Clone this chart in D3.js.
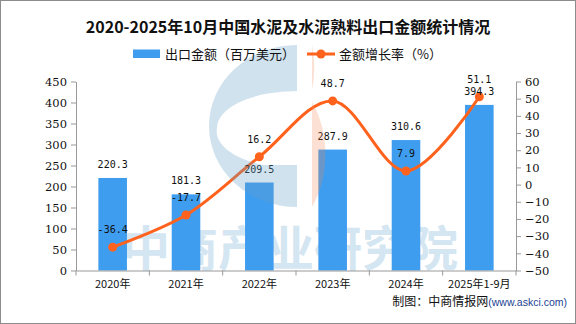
<!DOCTYPE html>
<html>
<head>
<meta charset="utf-8">
<script src="https://cdn.jsdelivr.net/npm/d3@7"></script>
<style>
    body { margin: 0; background: #fff; }
    svg { display: block; }
</style>
</head>
<body>
<svg id="drawing_region"></svg>
<script>
const years = ['2020年', '2021年', '2022年', '2023年', '2024年', '2025年1-9月'];
const exportValues = [220.3, 181.3, 209.5, 287.9, 310.6, 394.3];
const growthRates = [-36.4, -17.7, 16.2, 48.7, 7.9, 51.1];
const leftTicks = [0, 50, 100, 150, 200, 250, 300, 350, 400, 450];
const rightTicks = [-50, -40, -30, -20, -10, 0, 10, 20, 30, 40, 50, 60];

const title = '2020-2025年10月中国水泥及水泥熟料出口金额统计情况';
const barName = '出口金额（百万美元）';
const lineName = '金额增长率（%）';

const BAR_COLOR = '#3f9df0';
const LINE_COLOR = '#ff621c';

class ComboChart {
    constructor(config) {
        this.config = config;
        this.data = years.map((y, i) => ({ year: y, value: exportValues[i], rate: growthRates[i] }));
        this.init();
    }

    init() {
        let self = this;
        const m = self.config.margin;
        self.inner_width = self.config.width - m.left - m.right;
        self.inner_height = self.config.height - m.top - m.bottom;

        self.svg = d3.select(self.config.parent)
            .attr('width', self.config.width)
            .attr('height', self.config.height);

        // frame
        self.svg.append('rect')
            .attr('x', 0.5).attr('y', 0.5)
            .attr('width', self.config.width - 1).attr('height', self.config.height - 1)
            .attr('fill', '#fff').attr('stroke', '#8c8c8c');

        // watermark text sits behind the bars
        self.svg.append('text')
            .attr('x', 290).attr('y', 266)
            .attr('text-anchor', 'middle')
            .attr('font-family', '"Noto Sans CJK SC"')
            .attr('font-weight', 'bold')
            .attr('font-size', '48px')
            .attr('fill', '#d4e6f1')
            .text('中商产业研究院');

        self.chart = self.svg.append('g')
            .attr('transform', `translate(${m.left}, ${m.top})`);

        self.xscale = d3.scaleBand()
            .domain(years)
            .range([0, self.inner_width])
            .padding(0);

        self.yleft = d3.scaleLinear()
            .domain([0, 450])
            .range([self.inner_height, 0]);

        self.yright = d3.scaleLinear()
            .domain([-50, 60])
            .range([self.inner_height, 0]);

        self.line = d3.line()
            .x(d => self.xscale(d.year) + self.xscale.bandwidth() / 2)
            .y(d => self.yright(d.rate))
            .curve(d3.curveCatmullRom.alpha(0.5));
    }

    render() {
        let self = this;
        const bw = self.xscale.bandwidth() * 0.39;
        const cx = d => self.xscale(d.year) + self.xscale.bandwidth() / 2;
        const labelFont = '"DejaVu Sans Mono", monospace';

        // bars
        self.chart.selectAll('.bar')
            .data(self.data)
            .enter()
            .append('rect')
            .attr('class', 'bar')
            .attr('x', d => cx(d) - bw / 2)
            .attr('y', d => self.yleft(d.value))
            .attr('width', bw)
            .attr('height', d => self.inner_height - self.yleft(d.value))
            .attr('fill', BAR_COLOR);

        // growth line
        self.chart.append('path')
            .attr('d', self.line(self.data))
            .attr('fill', 'none')
            .attr('stroke', LINE_COLOR)
            .attr('stroke-width', 3);

        self.chart.selectAll('.dot')
            .data(self.data)
            .enter()
            .append('circle')
            .attr('class', 'dot')
            .attr('cx', cx)
            .attr('cy', d => self.yright(d.rate))
            .attr('r', 4.5)
            .attr('fill', LINE_COLOR);

        // value labels
        self.chart.selectAll('.bar-label')
            .data(self.data)
            .enter()
            .append('text')
            .attr('class', 'bar-label')
            .attr('x', cx)
            .attr('y', d => self.yleft(d.value) - 10)
            .attr('text-anchor', 'middle')
            .attr('font-family', labelFont)
            .attr('font-size', '10px')
            .attr('fill', '#111')
            .text(d => d.value.toFixed(1));

        self.chart.selectAll('.rate-label')
            .data(self.data)
            .enter()
            .append('text')
            .attr('class', 'rate-label')
            .attr('x', cx)
            .attr('y', d => self.yright(d.rate) - 14)
            .attr('text-anchor', 'middle')
            .attr('font-family', labelFont)
            .attr('font-size', '10px')
            .attr('fill', '#111')
            .text(d => d.rate.toFixed(1));

        // axes
        const leftAxis = d3.axisLeft(self.yleft)
            .tickValues(leftTicks)
            .tickSize(5)
            .tickPadding(4)
            .tickSizeOuter(0);

        const rightAxis = d3.axisRight(self.yright)
            .tickValues(rightTicks)
            .tickSize(5)
            .tickPadding(4)
            .tickSizeOuter(0)
            .tickFormat(d => d < 0 ? '\u2212' + Math.abs(d) : d);

        const bottomAxis = d3.axisBottom(self.xscale)
            .tickSize(0)
            .tickPadding(10)
            .tickSizeOuter(0);

        const gl = self.chart.append('g').call(leftAxis);
        const gr = self.chart.append('g')
            .attr('transform', `translate(${self.inner_width}, 0)`)
            .call(rightAxis);
        const gb = self.chart.append('g')
            .attr('transform', `translate(0, ${self.inner_height})`)
            .call(bottomAxis);

        // ticks between the year bands
        const bounds = years.map(y => self.xscale(y)).concat([self.inner_width]);
        gb.selectAll('.bound')
            .data(bounds)
            .enter()
            .append('line')
            .attr('x1', d => d).attr('x2', d => d)
            .attr('y1', 0).attr('y2', 5)
            .attr('stroke', '#999');

        [gl, gr].forEach(g => g.selectAll('text')
            .attr('font-family', '"DejaVu Serif", serif')
            .attr('font-size', '11.5px')
            .attr('fill', '#111'));
        gb.selectAll('text')
            .attr('font-family', '"Noto Sans CJK SC"')
            .attr('font-size', '11px')
            .attr('fill', '#111');
        [gl, gr, gb].forEach(g => {
            g.selectAll('.domain').attr('stroke', '#999');
            g.selectAll('.tick line').attr('stroke', '#999');
        });

        // logo watermark, translucent over the marks
        const logo = self.svg.append('g');
        logo.append('path')
            .attr('d', 'M297,45 A88,81 0 0 0 297,207 L297,165 L263,165 A80,37 0 0 1 217,128 A80,37 0 0 1 297,91 Z')
            .attr('fill', 'rgb(100,160,200)')
            .attr('fill-opacity', 0.3);
        logo.append('path')
            .attr('d', 'M312,45 A56,81 0 0 1 312,90 L312,102 A56,81 0 0 1 312,207 Z')
            .attr('fill', 'rgb(240,130,80)')
            .attr('fill-opacity', 0.25);

        // title
        self.svg.append('text')
            .attr('x', self.config.width / 2)
            .attr('y', 33)
            .attr('text-anchor', 'middle')
            .attr('font-family', '"Noto Sans CJK SC"')
            .attr('font-weight', 'bold')
            .attr('font-size', '16px')
            .attr('fill', '#111')
            .text(title);

        // legend
        const legend = self.svg.append('g')
            .attr('font-family', '"Noto Sans CJK SC"')
            .attr('font-size', '13px')
            .attr('fill', '#111');
        legend.append('rect')
            .attr('x', 133).attr('y', 49.5).attr('width', 27).attr('height', 8.5)
            .attr('fill', BAR_COLOR);
        legend.append('text').attr('x', 165).attr('y', 58.5).text(barName);
        legend.append('line')
            .attr('x1', 307).attr('x2', 335).attr('y1', 54).attr('y2', 54)
            .attr('stroke', LINE_COLOR).attr('stroke-width', 3);
        legend.append('circle')
            .attr('cx', 321).attr('cy', 54).attr('r', 4.5)
            .attr('fill', LINE_COLOR);
        legend.append('text').attr('x', 339).attr('y', 58.5).text(lineName);

        // source note
        const note = self.svg.append('text')
            .attr('x', 567).attr('y', 306)
            .attr('text-anchor', 'end')
            .attr('font-family', '"Noto Sans CJK SC"');
        note.append('tspan')
            .attr('font-size', '12px').attr('fill', '#111')
            .text('制图：中商情报网');
        note.append('tspan')
            .attr('font-family', '"Liberation Sans", Arial')
            .attr('font-size', '10.5px').attr('fill', '#1c3f94')
            .text('(www.askci.com)');
    }
}

let chart = new ComboChart({
    parent: '#drawing_region',
    width: 576,
    height: 324,
    margin: { top: 81.5, right: 60, bottom: 53.5, left: 76 },
});
chart.render();
</script>
</body>
</html>
